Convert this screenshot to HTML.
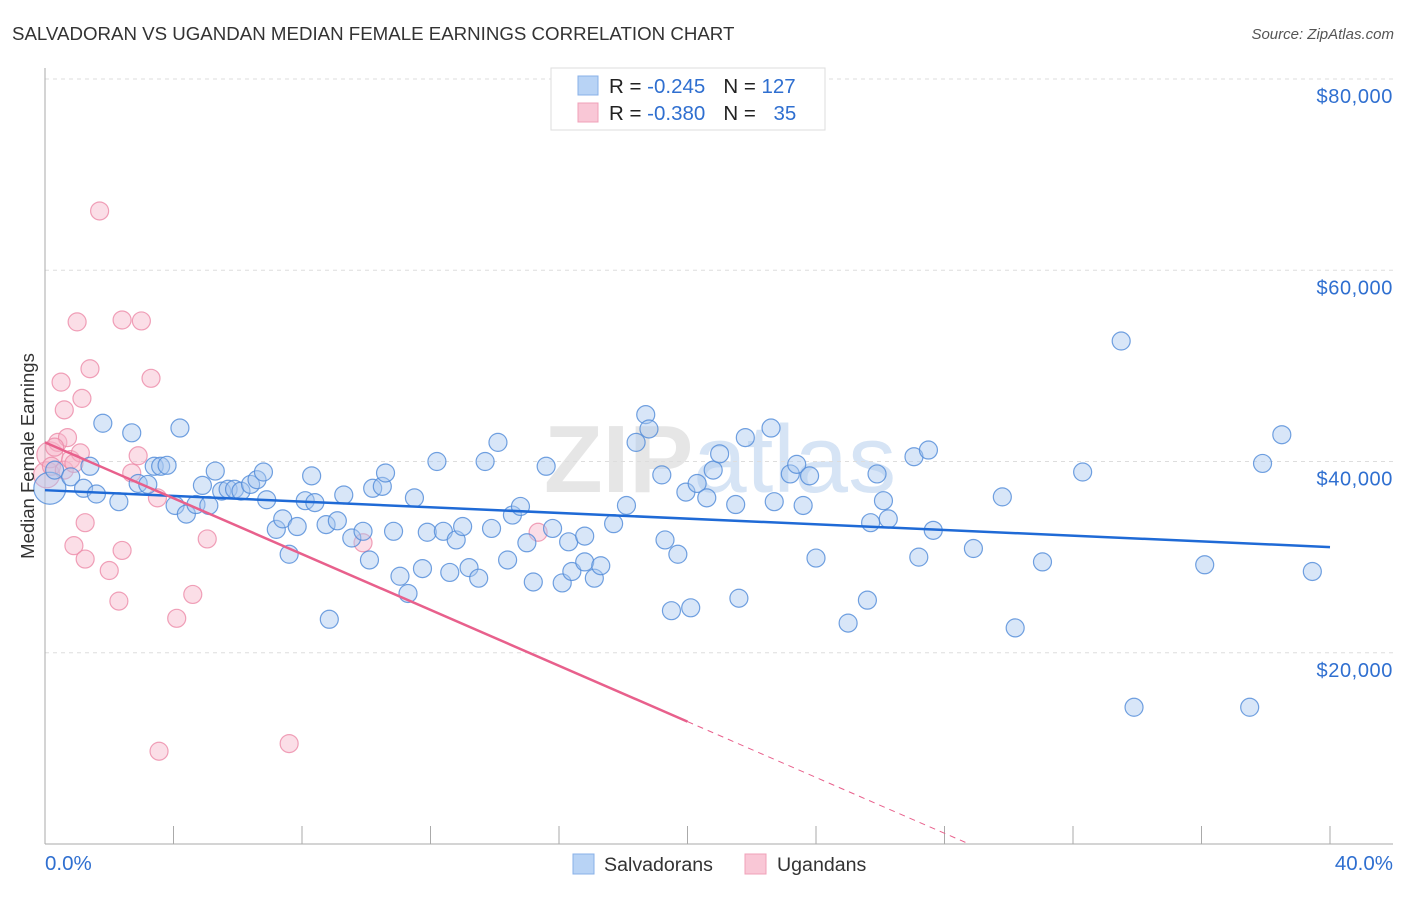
<!DOCTYPE html>
<html><head><meta charset="utf-8">
<style>
body{margin:0;background:#fff;font-family:"Liberation Sans",sans-serif;}
svg text{font-family:"Liberation Sans",sans-serif;}
</style></head>
<body>
<svg id="chart" width="1406" height="892" xmlns="http://www.w3.org/2000/svg">
<text x="12" y="40" font-size="18.7" fill="#333">SALVADORAN VS UGANDAN MEDIAN FEMALE EARNINGS CORRELATION CHART</text>
<text x="1394" y="39" font-size="15" fill="#555" font-style="italic" text-anchor="end">Source: ZipAtlas.com</text>
<text x="720" y="492" font-size="96" fill="#e6e6e6" text-anchor="middle" font-weight="bold">ZIP<tspan fill="#d6e4f5" font-weight="normal">atlas</tspan></text>
<g id="grid"></g>
<g id="axes"></g>
<g id="pts"></g>
<g id="trend"></g>
<text transform="translate(34,456) rotate(-90)" font-size="18.5" fill="#333" text-anchor="middle">Median Female Earnings</text>
<g>
<rect x="551" y="68" width="274" height="62" fill="#fff" stroke="#ddd"/>
<rect x="578" y="76" width="20" height="19" fill="#b8d3f5" stroke="#88b0e8"/>
<rect x="578" y="103" width="20" height="19" fill="#f9c7d6" stroke="#f0a0b8"/>
<text x="609" y="93" font-size="20.5" fill="#222">R = <tspan fill="#2f6fd0">-0.245</tspan><tspan dx="18">N = </tspan><tspan fill="#2f6fd0">127</tspan></text>
<text x="609" y="120" font-size="20.5" fill="#222">R = <tspan fill="#2f6fd0">-0.380</tspan><tspan dx="18">N = </tspan><tspan fill="#2f6fd0" dx="12">35</tspan></text>
</g>
<g>
<rect x="573" y="854" width="21" height="20" fill="#b8d3f5" stroke="#88b0e8"/>
<text x="604" y="871" font-size="19.6" fill="#333">Salvadorans</text>
<rect x="745" y="854" width="21" height="20" fill="#f9c7d6" stroke="#f0a0b8"/>
<text x="777" y="871" font-size="19.6" fill="#333">Ugandans</text>
</g>
<text x="45" y="870" font-size="20.5" fill="#2f6fd0">0.0%</text>
<text x="1393" y="870" font-size="20.5" fill="#2f6fd0" text-anchor="end">40.0%</text>
</svg>
<script>
const yTicks=[20000,40000,60000,80000];
const yTickLabels=["$20,000","$40,000","$60,000","$80,000"];
const xTicks=[0,4,8,12,16,20,24,28,32,36,40];
const blueX=[0.15,0.3,0.8,1.2,1.4,1.6,1.8,2.3,2.7,2.9,3.2,3.4,3.6,3.8,4.05,4.2,4.4,4.7,5.1,4.9,5.3,5.5,5.7,5.9,6.1,6.4,6.6,6.8,6.9,7.2,7.4,7.6,7.85,8.1,8.3,8.4,8.75,8.85,9.1,9.3,9.55,9.9,10.1,10.2,10.5,10.6,10.85,11.05,11.3,11.5,11.75,11.9,12.2,12.4,12.6,12.8,13.0,13.2,13.5,13.7,13.9,14.1,14.4,14.55,14.8,15.0,15.2,15.6,15.8,16.1,16.3,16.4,16.8,16.8,17.1,17.3,17.7,18.1,18.4,18.7,18.8,19.2,19.3,19.5,19.7,19.95,20.1,20.3,20.6,20.8,21.0,21.5,21.6,21.8,22.6,22.7,23.2,23.4,23.6,23.8,24.0,25.0,25.6,25.7,25.9,26.1,26.25,27.05,27.2,27.5,27.65,28.9,29.8,30.2,31.05,32.3,33.5,33.9,36.1,37.5,37.9,38.5,39.45];
const blueY=[37.2,39.1,38.4,37.2,39.5,36.6,44.0,35.8,43.0,37.7,37.6,39.5,39.5,39.6,35.4,43.5,34.5,35.5,35.4,37.5,39.0,36.9,37.1,37.1,36.9,37.6,38.1,38.9,36.0,32.9,34.0,30.3,33.2,35.9,38.5,35.7,33.4,23.5,33.8,36.5,32.0,32.7,29.7,37.2,37.4,38.8,32.7,28.0,26.2,36.2,28.8,32.6,40.0,32.7,28.4,31.8,33.2,28.9,27.8,40.0,33.0,42.0,29.7,34.4,35.3,31.5,27.4,39.5,33.0,27.3,31.6,28.5,32.2,29.5,27.8,29.1,33.5,35.4,42.0,44.9,43.4,38.6,31.8,24.4,30.3,36.8,24.7,37.7,36.2,39.1,40.8,35.5,25.7,42.5,43.5,35.8,38.7,39.7,35.4,38.5,29.9,23.1,25.5,33.6,38.7,35.9,34.0,40.5,30.0,41.2,32.8,30.9,36.3,22.6,29.5,38.9,52.6,14.3,29.2,14.3,39.8,42.8,28.5];
const pinkX=[0.05,0.15,0.2,0.4,0.5,0.6,0.6,0.7,0.8,0.9,1.0,1.1,1.15,1.25,1.25,1.4,1.7,2.0,2.3,2.4,2.4,2.7,2.9,3.0,3.3,3.5,3.55,4.1,4.6,5.05,7.6,9.9,15.35,0.3,0.9];
const pinkY=[38.6,40.7,39.5,42.0,48.3,45.4,39.1,42.5,40.2,31.2,54.6,40.9,46.6,33.6,29.8,49.7,66.2,28.6,25.4,54.8,30.7,38.8,40.6,54.7,48.7,36.2,9.7,23.6,26.1,31.9,10.5,31.5,32.6,41.5,39.8];
const blueTrend=[37.0,31.05];
const pinkTrend=[42.0,-1.46];
const NS="http://www.w3.org/2000/svg";
const X=v=>45+v*(1285/40);
const Y=v=>844-v*(765/80000);
function mk(t,a,p){const e=document.createElementNS(NS,t);for(const k in a)e.setAttribute(k,a[k]);p.appendChild(e);return e;}
const grid=document.getElementById('grid'),axes=document.getElementById('axes'),pts=document.getElementById('pts'),tr=document.getElementById('trend');
yTicks.forEach((t,i)=>{
 const l=mk('line',{x1:45,x2:1393,y1:Y(t),y2:Y(t),stroke:'#ddd','stroke-dasharray':'4,4'},grid);
 
 
 const tx=mk('text',{x:1393,y:Y(t)+24,'font-size':20,fill:'#2f6fd0','text-anchor':'end','letter-spacing':'0.6'},grid);
 tx.textContent=yTickLabels[i];
 
 
});
let a=mk('line',{x1:45,x2:45,y1:68,y2:844,stroke:'#aaa'},axes);


a=mk('line',{x1:45,x2:1393,y1:844,y2:844,stroke:'#aaa'},axes);


xTicks.forEach(t=>{
 const l=mk('line',{x1:X(t),x2:X(t),y1:826,y2:844,stroke:'#aaa'},axes);
 
 
});
function dots(xs,ys,fill,stroke,name){
 xs.forEach((x,i)=>{
  const r=(x<0.2)?(name==='salvadoran-point'?16:13):9;
  const c=mk('circle',{cx:X(x),cy:Y(ys[i]*1000),r:r,fill:fill,'fill-opacity':0.45,stroke:stroke,'stroke-width':1.2,'stroke-opacity':0.8},pts);
  
  
 });
}
dots(pinkX,pinkY,'#f7b5ca','#ec8aa8','ugandan-point');
dots(blueX,blueY,'#a9c8f0','#4f8ad8','salvadoran-point');
let l=mk('line',{x1:X(0),y1:Y(blueTrend[0]*1000),x2:X(40),y2:Y(blueTrend[1]*1000),stroke:'#1f6ad6','stroke-width':2.5},tr);


const pAt=x=>(pinkTrend[0]+pinkTrend[1]*x)*1000;
const xEnd=-pinkTrend[0]/pinkTrend[1];
l=mk('line',{x1:X(0),y1:Y(pAt(0)),x2:X(20),y2:Y(pAt(20)),stroke:'#e8608c','stroke-width':2.5},tr);


l=mk('line',{x1:X(20),y1:Y(pAt(20)),x2:X(xEnd),y2:Y(0),stroke:'#e8608c','stroke-width':1,'stroke-dasharray':'6,5'},tr);


</script>
</body></html>
